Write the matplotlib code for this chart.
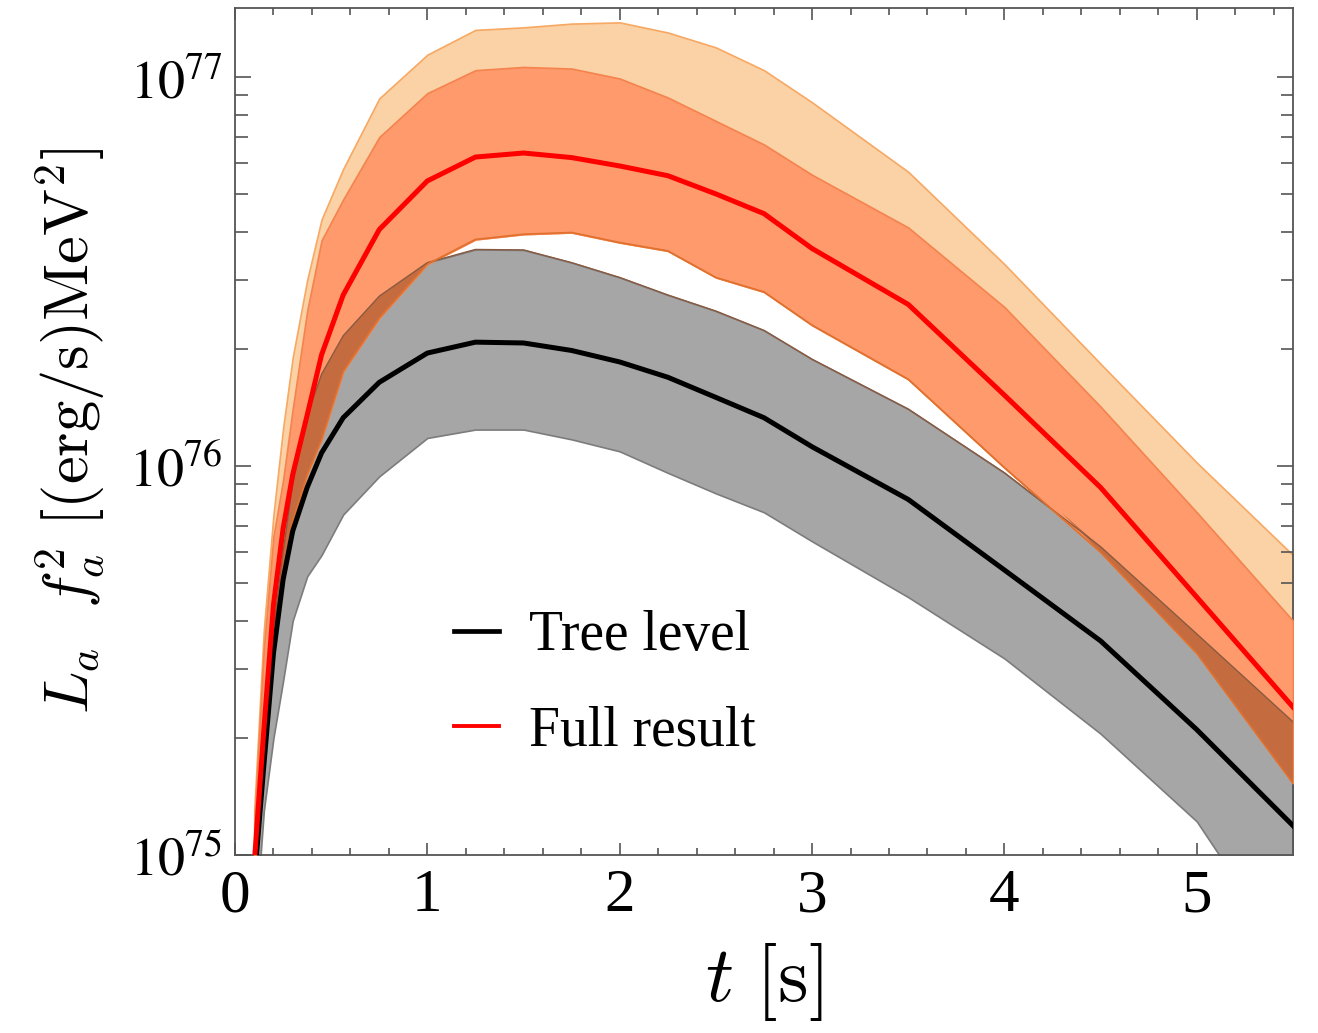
import numpy as np
import matplotlib
matplotlib.use("Agg")
import matplotlib.pyplot as plt
from matplotlib.ticker import LogLocator, MultipleLocator, FixedLocator, FixedFormatter, NullFormatter

# Time grid [s]
t = np.array([0.1, 0.15, 0.2, 0.25, 0.3, 0.375, 0.45, 0.5625, 0.75, 1.0, 1.25, 1.5,
              1.75, 2.0, 2.25, 2.5, 2.75, 3.0, 3.5, 4.0, 4.5, 5.0, 5.5])

# Tree-level luminosity (central, lower, upper) in (erg/s) MeV^2
tree = np.array([0.85e75, 1.7e75, 3.3e75, 5.1e75, 6.8e75, 8.8e75, 1.08e76, 1.33e76, 1.64e76,
                 1.95e76, 2.08e76, 2.07e76, 1.98e76, 1.85e76, 1.69e76, 1.50e76, 1.33e76,
                 1.12e76, 8.2e75, 5.4e75, 3.55e75, 2.1e75, 1.19e75])
tree_lo = np.array([0.6e75, 1.3e75, 2.0e75, 2.8e75, 4.0e75, 5.2e75, 5.9e75, 7.5e75, 9.4e75,
                    1.18e76, 1.24e76, 1.24e76, 1.17e76, 1.09e76, 9.6e75, 8.5e75, 7.6e75,
                    6.4e75, 4.6e75, 3.2e75, 2.05e75, 1.22e75, 5.2e74])
tree_hi = np.array([1.0e75, 2.0e75, 3.8e75, 6.0e75, 9.0e75, 1.35e76, 1.72e76, 2.16e76, 2.73e76,
                    3.33e76, 3.60e76, 3.59e76, 3.33e76, 3.05e76, 2.75e76, 2.50e76, 2.23e76,
                    1.88e76, 1.40e76, 9.6e75, 6.2e75, 3.7e75, 2.2e75])

# Full result (central, lower, upper, outer upper)
full = np.array([0.95e75, 2.1e75, 4.4e75, 6.9e75, 9.5e75, 1.35e76, 1.93e76, 2.75e76, 4.05e76,
                 5.4e76, 6.22e76, 6.37e76, 6.2e76, 5.9e76, 5.57e76, 5.0e76, 4.45e76,
                 3.62e76, 2.6e76, 1.52e76, 8.8e75, 4.6e75, 2.4e75])
full_lo = np.array([0.9e75, 1.9e75, 3.5e75, 5.3e75, 7.2e75, 9.5e75, 1.17e76, 1.75e76, 2.4e76,
                    3.3e76, 3.82e76, 3.94e76, 3.98e76, 3.75e76, 3.57e76, 3.05e76, 2.8e76,
                    2.3e76, 1.67e76, 9.9e75, 6.0e75, 3.3e75, 1.53e75])
full_hi = np.array([1.2e75, 3.4e75, 6.6e75, 9.2e75, 1.4e76, 2.5e76, 3.8e76, 4.84e76, 7.0e76,
                    9.08e76, 1.04e77, 1.06e77, 1.05e77, 9.9e76, 8.85e76, 7.7e76, 6.7e76,
                    5.6e76, 4.1e76, 2.56e76, 1.42e76, 7.6e75, 4.0e75])
full_hi_outer = np.array([1.3e75, 3.8e75, 7.5e75, 1.25e76, 1.9e76, 3.0e76, 4.3e76, 5.8e76, 8.8e76,
                          1.14e77, 1.32e77, 1.34e77, 1.37e77, 1.38e77, 1.30e77, 1.19e77, 1.04e77,
                          8.6e76, 5.7e76, 3.3e76, 1.83e76, 1.02e76, 5.9e75])

labels = ["Tree level", "Full result"]

fig = plt.figure(figsize=(13.18, 10.33), dpi=100)
ax = fig.add_axes([0.1783, 0.1723, 0.8027, 0.8200])

# Bands
ax.fill_between(t, full_lo, full_hi_outer, facecolor="#FBD1A6", edgecolor="#F7A862", lw=1.2, zorder=1)
ax.fill_between(t, tree_lo, tree_hi, facecolor="#A6A6A6", edgecolor="#7C7C7C", lw=1.2, zorder=2)
ax.fill_between(t, full_lo, full_hi, facecolor="#FE9A6C", edgecolor="#F5834E", lw=1.2, zorder=3)
# Region where the two bands overlap
ax.fill_between(t, full_lo, tree_hi, where=tree_hi > full_lo, interpolate=True,
                facecolor="#C46C40", edgecolor="none", zorder=4)
ax.plot(t, tree_hi, color="#8A5A40", lw=1.0, zorder=5)
ax.plot(t, full_lo, color="#E0702E", lw=1.2, zorder=5)

# Central curves
ax.plot(t, tree, color="black", lw=3.6, zorder=6, label=labels[0], solid_joinstyle="round")
ax.plot(t, full, color="#FF0000", lw=3.6, zorder=7, label=labels[1], solid_joinstyle="round")

ax.set_yscale("log")
ax.set_xlim(0, 5.5)
ax.set_ylim(1e75, 1.503e77)

# Ticks
ax.xaxis.set_major_locator(MultipleLocator(1))
ax.xaxis.set_minor_locator(MultipleLocator(0.2))
ax.yaxis.set_major_locator(FixedLocator([1e75, 1e76, 1e77]))
ax.yaxis.set_major_formatter(FixedFormatter([r"$10^{75}$", r"$10^{76}$", r"$10^{77}$"]))
ax.yaxis.set_minor_locator(LogLocator(base=10, subs=np.arange(2, 10)))
ax.yaxis.set_minor_formatter(NullFormatter())

tick_col = "#555555"
ax.tick_params(which="both", direction="in", top=True, right=True, color=tick_col, width=1.2)
ax.tick_params(axis="y", which="major", length=11.5, pad=9)
ax.tick_params(axis="y", which="minor", length=9)
ax.tick_params(axis="x", which="major", length=8.5, pad=10)
ax.tick_params(axis="x", which="minor", length=5)
for sp in ax.spines.values():
    sp.set_color(tick_col)
    sp.set_linewidth(1.3)

for lab in ax.get_xticklabels():
    lab.set_fontfamily("Liberation Serif")
    lab.set_fontsize(44)
for lab in ax.get_yticklabels():
    lab.set_fontsize(39)
    lab.set_math_fontfamily("stix")

ax.set_xlabel(r"$t\ [\mathrm{s}]$", fontsize=56, math_fontfamily="cm", labelpad=12)
ax.set_ylabel(r"$L_a\ \ f_a^2\ [(\mathrm{erg/s})\mathrm{MeV}^2]$", fontsize=45,
              math_fontfamily="cm", labelpad=16)

leg = ax.legend(loc="upper left", bbox_to_anchor=(0.16, 0.348), frameon=False,
                prop={"family": "Liberation Serif", "size": 40},
                handlelength=0.8, handletextpad=0.55, labelspacing=0.77)
for h, w in zip(leg.get_lines(), (3.4, 2.8)):
    h.set_linewidth(w)

fig.savefig("out.png", dpi=100)
